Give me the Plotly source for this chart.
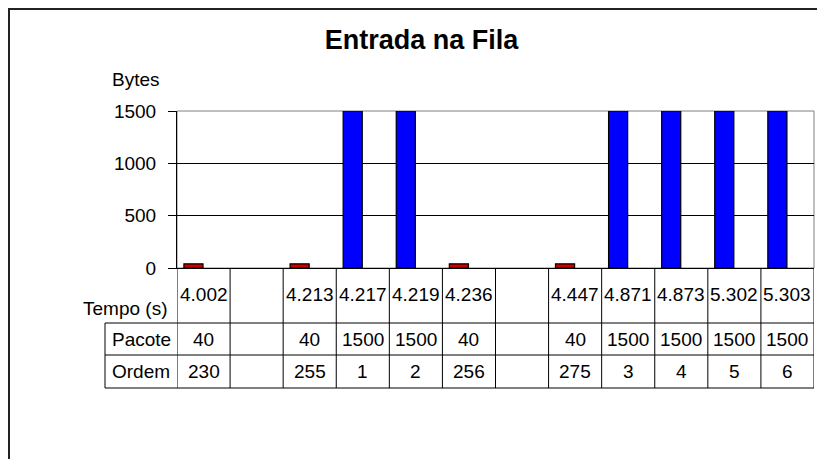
import plotly.graph_objects as go

# values
tempo = ["4.002", "", "4.213", "4.217", "4.219", "4.236", "", "4.447",
         "4.871", "4.873", "5.302", "5.303"]
pacote = [40, None, 40, 1500, 1500, 40, None, 40, 1500, 1500, 1500, 1500]
ordem = [230, None, 255, 1, 2, 256, None, 275, 3, 4, 5, 6]
y_ticks = [0, 500, 1000, 1500]

FONT = "Liberation Sans, Arial, sans-serif"
OFF = 8  # page body margin
W, H = 825 - OFF, 459 - OFF
L, R, T, B = 177 - OFF, 11, 111 - OFF, 191
PW, PH = W - L - R, H - T - B


def px_x(px):
    # screenshot pixel column -> paper x
    return (px - OFF - L) / PW


def px_y(py):
    # screenshot pixel row -> paper y
    return (H - B - (py - OFF)) / PH


idx = list(range(len(tempo)))
small = [v if v == 40 else None for v in pacote]
big = [v if v == 1500 else None for v in pacote]

fig = go.Figure()
for vals, col in [(small, "#CC0000"), (big, "#0000FF")]:
    fig.add_trace(go.Bar(
        x=idx, y=vals, width=0.36, offset=-0.37,
        marker=dict(color=col, line=dict(color="black", width=1.2)),
        showlegend=False, hoverinfo="skip",
    ))

shapes = []
# plot area border (grey)
shapes.append(dict(type="rect", xref="paper", yref="paper", x0=0, x1=1, y0=0, y1=1,
                   line=dict(color="#808080", width=1), layer="below"))
# outer chart border, running off the right and bottom edges
shapes.append(dict(type="rect", xref="paper", yref="paper",
                   x0=px_x(9), x1=px_x(900), y0=px_y(9), y1=px_y(500),
                   line=dict(color="#222222", width=2)))

row_top = [px_y(323), px_y(355), px_y(388)]
tbl_left = px_x(105)
for yy in row_top:
    shapes.append(dict(type="line", xref="paper", yref="paper", x0=tbl_left, x1=1,
                       y0=yy, y1=yy, line=dict(color="black", width=1)))
shapes.append(dict(type="line", xref="paper", yref="paper", x0=tbl_left, x1=tbl_left,
                   y0=row_top[0], y1=row_top[2], line=dict(color="black", width=1)))
for k in range(len(tempo) + 1):
    shapes.append(dict(type="line", xref="x", yref="paper", x0=k - 0.5, x1=k - 0.5,
                       y0=0, y1=row_top[2], line=dict(color="black", width=1)))

ann = []
tf = dict(family=FONT, size=19, color="black")
for i in idx:
    if tempo[i]:
        ann.append(dict(x=i, y=px_y(294.5), xref="x", yref="paper", text=tempo[i],
                        showarrow=False, font=tf, xanchor="center", yanchor="middle"))
    if pacote[i] is not None:
        ann.append(dict(x=i, y=px_y(339), xref="x", yref="paper", text=str(pacote[i]),
                        showarrow=False, font=tf, xanchor="center", yanchor="middle"))
    if ordem[i] is not None:
        ann.append(dict(x=i, y=px_y(371.5), xref="x", yref="paper", text=str(ordem[i]),
                        showarrow=False, font=tf, xanchor="center", yanchor="middle"))

ann.append(dict(x=px_x(169), y=px_y(308), xref="paper", yref="paper", text="Tempo (s)",
                showarrow=False, font=tf, xanchor="right", yanchor="middle"))
ann.append(dict(x=px_x(110), y=px_y(339), xref="paper", yref="paper", text="Pacote",
                showarrow=False, font=tf, xanchor="left", yanchor="middle"))
ann.append(dict(x=px_x(110), y=px_y(371.5), xref="paper", yref="paper", text="Ordem",
                showarrow=False, font=tf, xanchor="left", yanchor="middle"))
ann.append(dict(x=px_x(110), y=px_y(79), xref="paper", yref="paper", text="Bytes",
                showarrow=False, font=tf, xanchor="left", yanchor="middle"))

fig.update_layout(
    width=W, height=H,
    margin=dict(l=L, r=R, t=T, b=B, autoexpand=False),
    paper_bgcolor="white", plot_bgcolor="white",
    font=dict(family=FONT, color="black"),
    title=dict(text="<b>Entrada na Fila</b>", x=(421.5 - OFF) / W, y=1 - (40 - OFF) / H,
               xanchor="center", yanchor="middle",
               font=dict(family=FONT, size=27, color="black")),
    barmode="overlay",
    shapes=shapes, annotations=ann,
)
fig.update_xaxes(range=[-0.5, len(tempo) - 0.5], showticklabels=False, showgrid=False,
                 zeroline=False, showline=True, linecolor="black", linewidth=1, ticks="")
fig.update_yaxes(range=[0, 1500], tickvals=y_ticks, ticktext=[str(v) for v in y_ticks],
                 showgrid=True, gridcolor="black", gridwidth=1, zeroline=False,
                 showline=True, linecolor="black", linewidth=1,
                 ticks="outside", ticklen=8, tickcolor="black",
                 ticklabelstandoff=8, tickfont=tf)

fig.write_html("out.html")
